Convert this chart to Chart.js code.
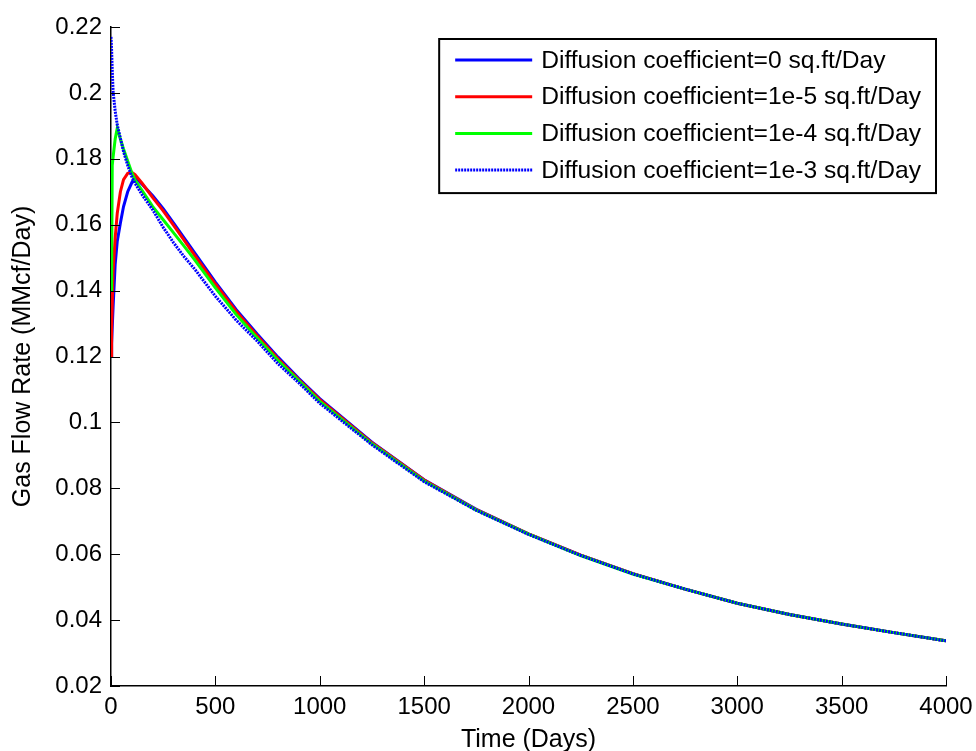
<!DOCTYPE html>
<html lang="en">
  <head>
    <meta charset="UTF-8" />
    <title>Gas flow rate vs time</title>
    <style>
      * {
        margin: 0;
        padding: 0;
        box-sizing: border-box;
      }
      body {
        background: #fff;
      }
    </style>
  </head>
  <body>
    <canvas id="myChart" width="976" height="751"></canvas>

    <script src="https://cdn.jsdelivr.net/npm/chart.js"></script>

    <script>
      // time grid (days) shared by all series
      const days = [
        0, 3, 6, 10, 20, 30, 45, 60, 80, 100, 115, 150, 200, 250, 300, 350,
        400, 500, 600, 700, 800, 900, 1000, 1250, 1500, 1750, 2000, 2250, 2500,
        2750, 3000, 3250, 3500, 3750, 4000,
      ];

      // gas flow rate, MMcf/Day
      const rateD0 = [
        0.12, 0.124, 0.129, 0.135, 0.148, 0.155, 0.1605, 0.1655, 0.17, 0.1728,
        0.1745, 0.1722, 0.1688, 0.1649, 0.1605, 0.156, 0.1515, 0.1426, 0.1342,
        0.1268, 0.1198, 0.1133, 0.1072, 0.094, 0.0826, 0.0736, 0.0662, 0.0597,
        0.0541, 0.0494, 0.0451, 0.0417, 0.0388, 0.0362, 0.0337,
      ];
      const rateD1e5 = [
        0.12, 0.128, 0.136, 0.146, 0.156, 0.1635, 0.17, 0.1737, 0.1756, 0.1759,
        0.1752, 0.1725, 0.1682, 0.1642, 0.1598, 0.1553, 0.1508, 0.142, 0.1337,
        0.1263, 0.1193, 0.1129, 0.1069, 0.0938, 0.0825, 0.0735, 0.0662, 0.0597,
        0.0541, 0.0494, 0.0451, 0.0417, 0.0388, 0.0362, 0.0337,
      ];
      const rateD1e4 = [
        0.14, 0.145, 0.178, 0.1805, 0.186, 0.1893, 0.186, 0.183, 0.1793,
        0.1757, 0.1735, 0.1703, 0.1655, 0.1615, 0.1575, 0.1535, 0.1494, 0.1408,
        0.1327, 0.1256, 0.1188, 0.1126, 0.1064, 0.0935, 0.0822, 0.0734, 0.0661,
        0.0596, 0.054, 0.0494, 0.0451, 0.0417, 0.0388, 0.0362, 0.0337,
      ];
      const rateD1e3 = [
        0.217, 0.213, 0.207, 0.2005, 0.1945, 0.1903, 0.1862, 0.1822, 0.178,
        0.1745, 0.1726, 0.169, 0.1645, 0.1592, 0.1545, 0.1503, 0.1466, 0.1383,
        0.131, 0.1247, 0.1178, 0.112, 0.1058, 0.0932, 0.082, 0.0733, 0.066,
        0.0596, 0.054, 0.0494, 0.0451, 0.0417, 0.0388, 0.0362, 0.0337,
      ];

      const seriesLabels = [
        "Diffusion coefficient=0 sq.ft/Day",
        "Diffusion coefficient=1e-5 sq.ft/Day",
        "Diffusion coefficient=1e-4 sq.ft/Day",
        "Diffusion coefficient=1e-3 sq.ft/Day",
      ];

      const xTicks = [0, 500, 1000, 1500, 2000, 2500, 3000, 3500, 4000];
      const yTicks = [
        0.02, 0.04, 0.06, 0.08, 0.1, 0.12, 0.14, 0.16, 0.18, 0.2, 0.22,
      ];

      const FONT = "Liberation Sans";
      const toPoints = (ys) => days.map((d, i) => ({ x: d, y: ys[i] }));

      // MATLAB style ticks pointing into the plot
      const inwardTicks = {
        id: "inwardTicks",
        afterDraw(chart) {
          const { ctx, chartArea, scales } = chart;
          ctx.save();
          ctx.strokeStyle = "#000";
          ctx.lineWidth = 1;
          ctx.beginPath();
          xTicks.forEach((v) => {
            const x = Math.round(scales.x.getPixelForValue(v)) + 0.5;
            ctx.moveTo(x, chartArea.bottom);
            ctx.lineTo(x, chartArea.bottom - 10);
          });
          yTicks.forEach((v) => {
            const y = Math.round(scales.y.getPixelForValue(v)) + 0.5;
            ctx.moveTo(chartArea.left, y);
            ctx.lineTo(chartArea.left + 9, y);
          });
          ctx.stroke();
          ctx.restore();
        },
      };

      // boxed legend in the upper right corner of the plot
      const boxLegend = {
        id: "boxLegend",
        afterDatasetsDraw(chart) {
          const { ctx, chartArea, data } = chart;
          ctx.save();
          ctx.font = "24.6px '" + FONT + "'";
          const widths = data.datasets.map((ds) => ctx.measureText(ds.label).width);
          const rowH = 36.7;
          const boxW = 102 + Math.max(...widths) + 15;
          const boxH = 21 + rowH * (data.datasets.length - 1) + 23;
          const left = chartArea.right - 10 - boxW;
          const top = chartArea.top + 12;

          ctx.fillStyle = "#fff";
          ctx.fillRect(left, top, boxW, boxH);
          ctx.strokeStyle = "#000";
          ctx.lineWidth = 2;
          ctx.strokeRect(left, top, boxW, boxH);

          ctx.textBaseline = "middle";
          ctx.textAlign = "left";
          data.datasets.forEach((ds, i) => {
            const y = top + 21 + i * rowH;
            ctx.strokeStyle = ds.borderColor;
            ctx.lineWidth = ds.borderWidth;
            ctx.setLineDash(ds.borderDash || []);
            ctx.beginPath();
            ctx.moveTo(left + 16, y);
            ctx.lineTo(left + 93, y);
            ctx.stroke();
            ctx.setLineDash([]);
            ctx.fillStyle = "#000";
            ctx.fillText(ds.label, left + 102, y + 1);
          });
          ctx.restore();
        },
      };

      const data = {
        datasets: [
          {
            label: seriesLabels[0],
            data: toPoints(rateD0),
            borderColor: "#0000ff",
            borderWidth: 3,
            order: 3,
          },
          {
            label: seriesLabels[1],
            data: toPoints(rateD1e5),
            borderColor: "#ff0000",
            borderWidth: 3,
            order: 2,
          },
          {
            label: seriesLabels[2],
            data: toPoints(rateD1e4),
            borderColor: "#00ff00",
            borderWidth: 3,
            order: 1,
          },
          {
            label: seriesLabels[3],
            data: toPoints(rateD1e3),
            borderColor: "#0000ff",
            borderWidth: 3,
            borderDash: [2, 1],
            order: 0,
          },
        ],
      };

      const config = {
        type: "line",
        data: data,
        options: {
          responsive: false,
          animation: false,
          devicePixelRatio: 1,
          layout: { padding: { top: 27, right: 30, left: 0, bottom: 0 } },
          elements: {
            point: { radius: 0 },
            line: { tension: 0, borderCapStyle: "butt" },
          },
          plugins: {
            legend: { display: false },
            tooltip: { enabled: false },
          },
          scales: {
            x: {
              type: "linear",
              min: 0,
              max: 4000,
              afterBuildTicks: (scale) => {
                scale.ticks = xTicks.map((v) => ({ value: v }));
              },
              afterFit: (scale) => {
                scale.height = 65;
                scale.paddingLeft = 0;
                scale.paddingRight = 0;
              },
              grid: { drawOnChartArea: false, drawTicks: false },
              border: { display: true, color: "#000", width: 1.5 },
              ticks: {
                color: "#000",
                padding: 7,
                maxRotation: 0,
                font: { family: FONT, size: 24 },
                callback: (v) => String(v),
              },
              title: {
                display: true,
                text: "Time (Days)",
                color: "#000",
                font: { family: FONT, size: 25, lineHeight: 1 },
                padding: { top: 0, bottom: -2 },
              },
            },
            y: {
              type: "linear",
              min: 0.02,
              max: 0.22,
              afterBuildTicks: (scale) => {
                scale.ticks = yTicks.map((v) => ({ value: v }));
              },
              afterFit: (scale) => {
                scale.width = 111;
              },
              grid: { drawOnChartArea: false, drawTicks: false },
              border: { display: true, color: "#000", width: 1.5 },
              ticks: {
                color: "#000",
                padding: 9,
                font: { family: FONT, size: 24 },
                callback: (v) => String(Number(v.toFixed(2))),
              },
              title: {
                display: true,
                text: "Gas Flow Rate (MMcf/Day)",
                color: "#000",
                font: { family: FONT, size: 25, lineHeight: 1 },
                padding: { top: 11, bottom: 0 },
              },
            },
          },
        },
        plugins: [inwardTicks, boxLegend],
      };

      const myChart = new Chart(document.getElementById("myChart"), config);
    </script>
  </body>
</html>
